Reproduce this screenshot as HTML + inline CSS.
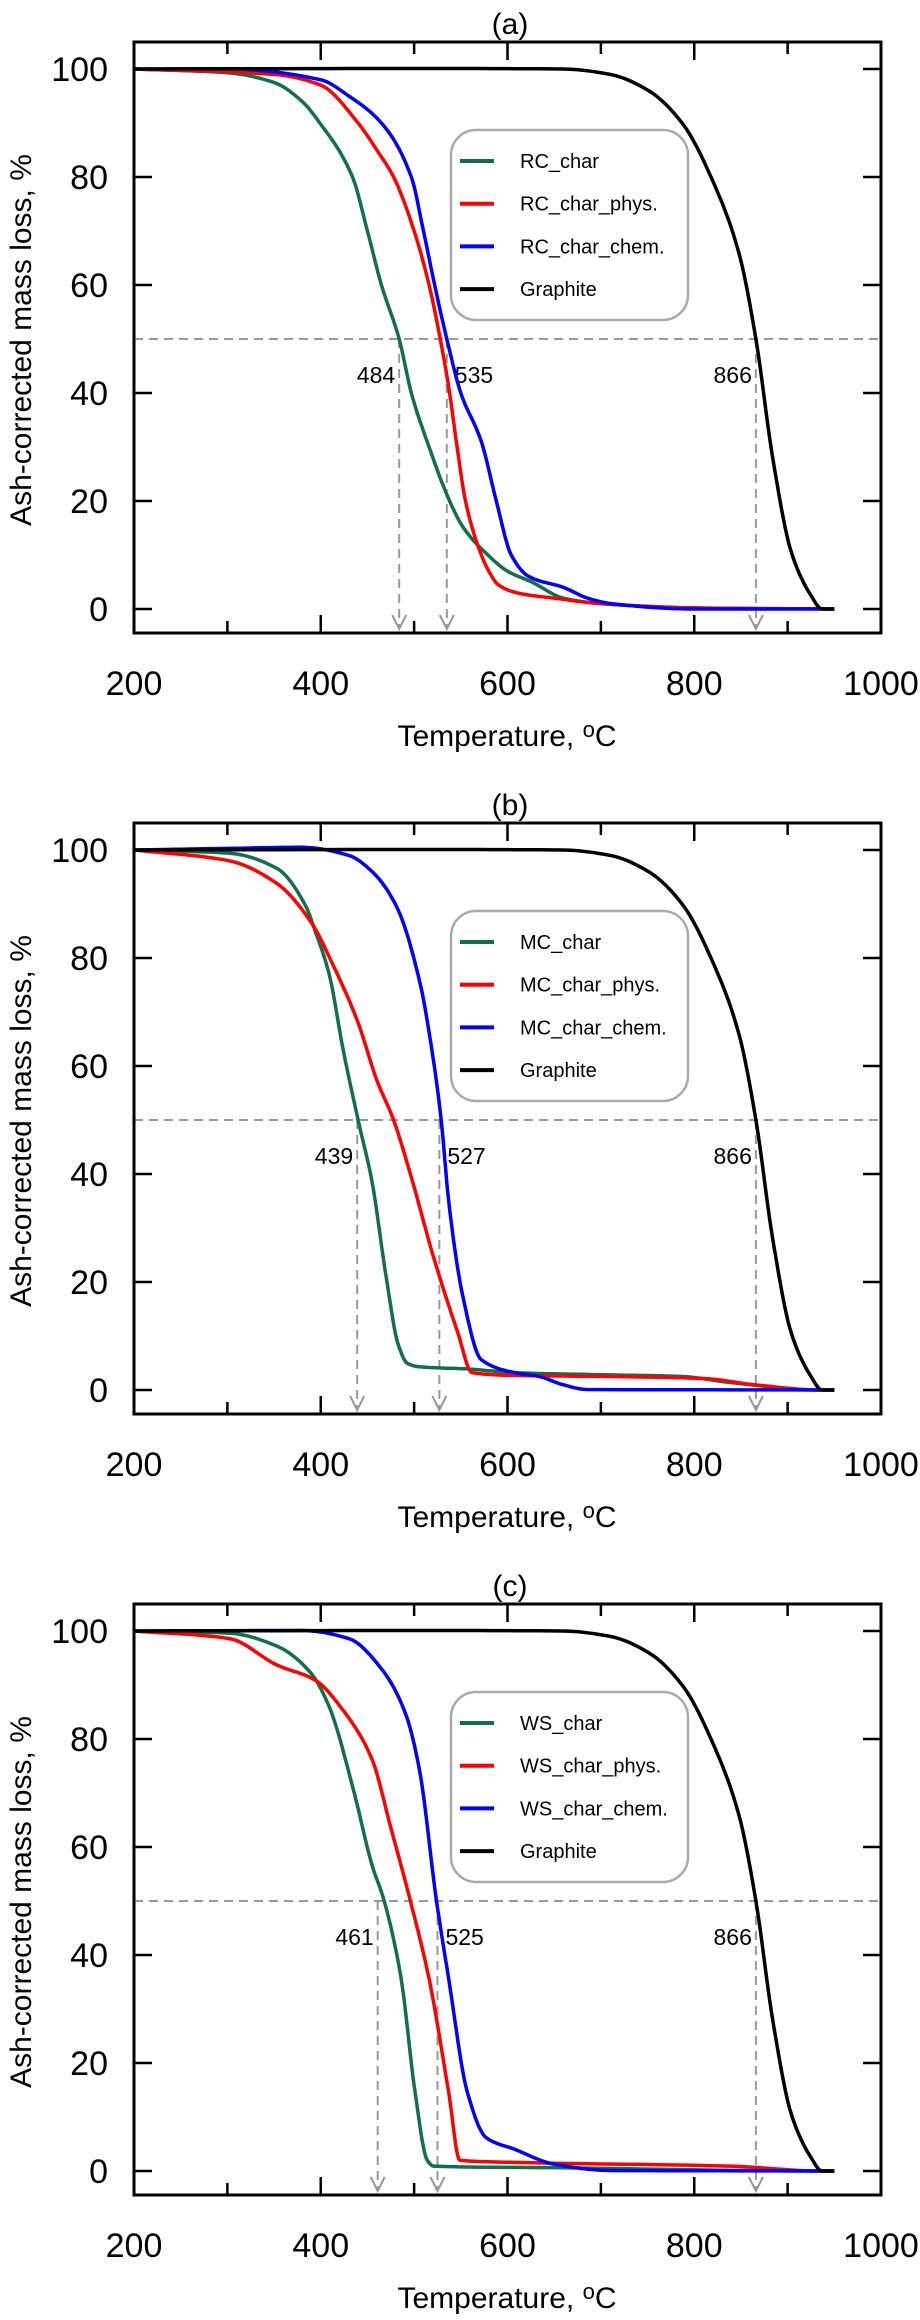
<!DOCTYPE html>
<html><head><meta charset="utf-8"><style>
body{margin:0;background:#fff}
svg{display:block;font-family:"Liberation Sans",Arial,sans-serif}
</style></head><body>
<svg id="fig" width="920" height="2320" viewBox="0 0 920 2320"></svg>
<script>
// ---- data (temperature °C, ash-corrected mass loss %) ----
const graphiteT=[200,506,659,710,751,787,822,848,866,884,904,924,937,950];
const graphiteY=[100,100.1,100,99,96,90,78.4,65.8,50,28,10.5,2.8,0,0];

const rcCharT=[200,300,350,380,399,434,450,465,484,497,516,538,553,579,600,626,660,700,750,800,950];
const rcCharY=[100,99.3,97.5,94,90,80,70,60,50,40,30,20,15,10,7,5,2,1,0.5,0.2,0];
const rcPhysT=[200,350,400,440,460,478,500,516,528,538,546,555,572,580,590,610,650,700,800,950];
const rcPhysY=[100,99,97,90,85,80,70,60,50,40,30,20,10,7,4.5,3,2,1,0.2,0];
const rcChemT=[200,300,400,430,465,497,510,522,535,550,572,588,604,623,660,686,711,800,950];
const rcChemY=[100,100,98,95,90,80,70,60,50,40,31,20,10,6,4,2,1,0,0];

const mcCharT=[200,302,353,384,394,409,424,440,455,470,483,493,506,557,608,710,787,838,935,950];
const mcCharY=[100,99.4,96.6,89.6,85,77,63,50,38.5,21,8.4,4.9,4.3,3.9,3.2,2.8,2.5,1.4,0,0];
const mcPhysT=[200,302,353,389,414,440,460,478,496,521,547,562,608,710,812,863,935,950];
const mcPhysY=[100,98,93.8,86.8,78.4,68,57.4,50,40,24.5,10.5,3.2,2.7,2.5,2.1,1,0,0];
const mcChemT=[200,302,379,430,455,481,506,519,529,537,552,572,608,634,659,685,950];
const mcChemY=[100,100.3,100.5,99,96,89.6,75.6,63,50,35,17.5,5.6,3.2,2.5,1,0.1,0];

const wsCharT=[200,302,353,389,409,435,455,468,486,501,514,521,659,935,950];
const wsCharY=[100,99.6,97.2,92.3,86,70.6,56.6,50,35.7,14.6,2,0.9,0.6,0,0];
const wsPhysT=[200,302,353,394,424,455,475,496,516,537,549,608,838,935,950];
const wsPhysY=[100,98.6,93.7,90.9,85.3,76.2,63.6,50,35.6,14.6,2,1.6,0.9,0,0];
const wsChemT=[200,379,430,465,491,506,524,537,557,577,608,649,710,950];
const wsChemY=[100,100.1,98.6,93,84.6,74,50,35.6,14.6,6.2,4,1.3,0.1,0];

const panelLabels=["(a)","(b)","(c)"];
const legendNames=[["RC_char","RC_char_phys.","RC_char_chem.","Graphite"],["MC_char","MC_char_phys.","MC_char_chem.","Graphite"],["WS_char","WS_char_phys.","WS_char_chem.","Graphite"]];
const markerTemps=[[484,535,866],[439,527,866],[461,525,866]];
const xTicks=[200,400,600,800,1000];
const yTicks=[0,20,40,60,80,100];

const seriesT=[[rcCharT,rcPhysT,rcChemT,graphiteT],[mcCharT,mcPhysT,mcChemT,graphiteT],[wsCharT,wsPhysT,wsChemT,graphiteT]];
const seriesY=[[rcCharY,rcPhysY,rcChemY,graphiteY],[mcCharY,mcPhysY,mcChemY,graphiteY],[wsCharY,wsPhysY,wsChemY,graphiteY]];
const colors=["#11704a","#ff0000","#0000ff","#000000"];

const NS="http://www.w3.org/2000/svg";
const svg=document.getElementById('fig');
function mk(tag,attrs,parent){const e=document.createElementNS(NS,tag);for(const k in attrs)e.setAttribute(k,attrs[k]);(parent||svg).appendChild(e);return e;}

const L=134,R=881,PT=42,PB=633,Y100=69,Y0=609;
function sx(t){return L+(t-200)*(R-L)/800;}
function sy(v){return Y0-(v)*(Y0-Y100)/100;}

// monotone cubic (Fritsch-Carlson) interpolation in data space
function monoPath(T,Y){
  const n=T.length,d=[],m=[];
  for(let i=0;i<n-1;i++)d.push((Y[i+1]-Y[i])/(T[i+1]-T[i]));
  m[0]=d[0];m[n-1]=d[n-2];
  for(let i=1;i<n-1;i++){
    if(d[i-1]*d[i]<=0)m[i]=0;
    else{const w1=2*(T[i+1]-T[i])+(T[i]-T[i-1]),w2=(T[i+1]-T[i])+2*(T[i]-T[i-1]);m[i]=(w1+w2)/(w1/d[i-1]+w2/d[i]);}
  }
  let s="M"+sx(T[0]).toFixed(1)+","+sy(Y[0]).toFixed(1);
  for(let i=0;i<n-1;i++){
    const h=T[i+1]-T[i];
    for(let k=1;k<=12;k++){
      const u=k/12,h00=2*u*u*u-3*u*u+1,h10=u*u*u-2*u*u+u,h01=-2*u*u*u+3*u*u,h11=u*u*u-u*u;
      const y=h00*Y[i]+h10*h*m[i]+h01*Y[i+1]+h11*h*m[i+1];
      s+=" L"+sx(T[i]+u*h).toFixed(1)+","+sy(y).toFixed(1);
    }
  }
  return s;
}

for(let p=0;p<3;p++){
  const off=p*781;
  const g=mk('g',{transform:'translate(0,'+off+')'});
  
  
  const t=mk('text',{x:510,y:34,'font-size':30,'text-anchor':'middle'},g);t.textContent=panelLabels[p];
  
  
  for(let v=200;v<=1000;v+=100){
    const len=(v%200===0)?18:12,x=sx(v);
    const tk=mk('path',{d:`M${x},${PB}v${-len}M${x},${PT}v${len}`,stroke:'#000','stroke-width':2.5},g);
    
    
  }
  xTicks.forEach(v=>{const e=mk('text',{x:sx(v),y:695,'font-size':34,'text-anchor':'middle'},g);e.textContent=v;
    
    });
  yTicks.forEach(v=>{const y=sy(v);
    const tk=mk('path',{d:`M${L},${y}h18M${R},${y}h-18`,stroke:'#000','stroke-width':2.5},g);
    
    
    const e=mk('text',{x:108,y:y+12,'font-size':34,'text-anchor':'end'},g);e.textContent=v;
    
    });
  const xt=mk('text',{x:507,y:746,'font-size':30,'text-anchor':'middle'},g);
  xt.innerHTML='Temperature,  <tspan font-size="22" dy="-9">o</tspan><tspan dy="9">C</tspan>';
  
  
  const yt=mk('text',{x:0,y:0,'font-size':30,'text-anchor':'middle',transform:'translate(31,340) rotate(-90)'},g);
  yt.textContent='Ash-corrected mass loss, %';
  
  
  const h=mk('line',{x1:L,x2:R,y1:sy(50),y2:sy(50),stroke:'#999','stroke-width':2,'stroke-dasharray':'9,6'},g);
  
  
  markerTemps[p].forEach((tv,i)=>{
    const x=sx(tv);
    const vl=mk('line',{x1:x,x2:x,y1:sy(50),y2:628,stroke:'#999','stroke-width':2,'stroke-dasharray':'9,6'},g);
    
    
    const ah=mk('path',{d:`M${x-7},${615}L${x},${629}L${x+7},${615}`,fill:'none',stroke:'#999','stroke-width':2},g);
    
    
    const right=(i===1);
    const lb=mk('text',{x:right?x+8:x-4,y:sy(50)+44,'font-size':23,'text-anchor':right?'start':'end'},g);
    lb.textContent=tv;
    
    
  });
  for(let s=0;s<4;s++){
    const T=seriesT[p][s],Y=seriesY[p][s];
    const path=mk('path',{d:monoPath(T,Y),fill:'none',stroke:colors[s],'stroke-width':3.5,'stroke-linejoin':'round'},g);
    
    
  }
  const fr=mk('rect',{x:L,y:PT,width:R-L,height:PB-PT,fill:'none',stroke:'#000','stroke-width':3},g);
  
  
  const lg=mk('g',{},g);
  
  
  mk('rect',{x:451,y:130,width:237,height:190,rx:25,fill:'#fff',stroke:'#aaa','stroke-width':2.5},lg);
  for(let s=0;s<4;s++){
    const y=161+s*42.7;
    const ent=mk('g',{},lg);
    
    
    mk('line',{x1:460,x2:494,y1:y,y2:y,stroke:colors[s],'stroke-width':4},ent);
    const tx=mk('text',{x:520,y:y+7,'font-size':20},ent);tx.textContent=legendNames[p][s];
  }
}
</script>
</body></html>
